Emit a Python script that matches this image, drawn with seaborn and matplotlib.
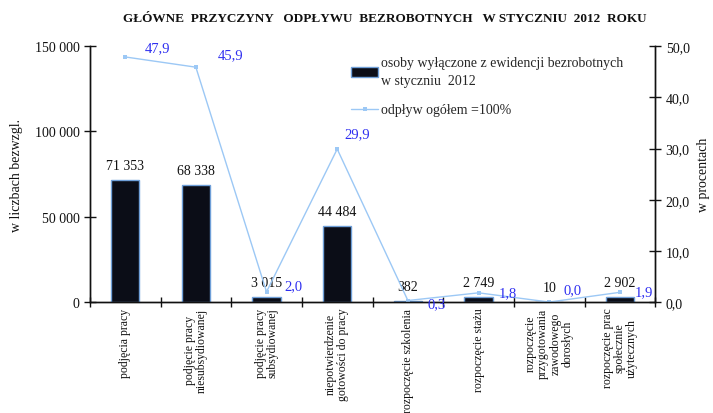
import numpy as np
import pandas as pd
import matplotlib
matplotlib.use("Agg")
import matplotlib.pyplot as plt
from matplotlib.ticker import FuncFormatter, FixedLocator
import seaborn as sns

# ---- data ----
categories = [
    "podjęcia pracy",
    "podjęcie pracy\nniesubsydiowanej",
    "podjęcie pracy\nsubsydiowanej",
    "niepotwierdzenie\ngotowości do pracy",
    "rozpoczęcie szkolenia",
    "rozpoczęcie stażu",
    "rozpoczęcie\nprzygotowania\nzawodowego\ndorosłych",
    "rozpoczęcie prac\nspołecznie\nużytecznych",
]
counts = [71353, 68338, 3015, 44484, 382, 2749, 10, 2902]
percents = [47.9, 45.9, 2.0, 29.9, 0.3, 1.8, 0.0, 1.9]
left_ticks = [0, 50000, 100000, 150000]
right_ticks = [0, 10, 20, 30, 40, 50]

title = "GŁÓWNE  PRZYCZYNY   ODPŁYWU  BEZROBOTNYCH   W STYCZNIU  2012  ROKU"
bar_legend = "osoby wyłączone z ewidencji bezrobotnych\nw styczniu  2012"
line_legend = "odpływ ogółem =100%"

sns.set_theme(style="white")
plt.rcParams["font.family"] = ["Liberation Serif", "DejaVu Serif"]

df = pd.DataFrame({"cat": categories, "count": counts, "pct": percents})
df["pos"] = np.arange(len(df))

fig = plt.figure(figsize=(7.13, 4.14), dpi=100)
ax = fig.add_axes([0.126, 0.268, 0.793, 0.618])

sns.barplot(data=df, x="cat", y="count", ax=ax, color="#0b0d17",
            edgecolor="#6f9fd8", linewidth=1.0, width=0.40, saturation=1,
            label=bar_legend)
ax.set_xlim(-0.5, len(df) - 0.5)
ax.set_ylim(0, 150000)

fmt_count = lambda v: f"{int(v):,}".replace(",", " ")
ax.bar_label(ax.containers[0], labels=[fmt_count(v) for v in counts],
             padding=6, fontsize=10, color="#111111")

ax2 = ax.twinx()
sns.lineplot(data=df, x="pos", y="pct", ax=ax2, color="#9cc8f5",
             marker="s", markersize=3.5, markeredgewidth=0, linewidth=1.0,
             label=line_legend)
ax2.set_ylim(0, 50)
ax2.set_xlim(-0.5, len(df) - 0.5)

offsets = [(32, 9), (35, 12), (27, 6), (20, 15), (29, -3), (29, 0), (23, 12), (24, 1)]
for (x, y), (dx, dy) in zip(zip(df["pos"], percents), offsets):
    ax2.annotate(f"{y:.1f}".replace(".", ","), (x, y), xytext=(dx, dy),
                 textcoords="offset pixels", ha="center", va="center",
                 fontsize=10.5, color="#2f2ff0")

# axes styling
for a in (ax, ax2):
    a.spines["top"].set_visible(False)
    for s in ("left", "right", "bottom"):
        a.spines[s].set_color("#111111")
        a.spines[s].set_linewidth(1.0)
    a.grid(False)

ax.yaxis.set_major_locator(FixedLocator(left_ticks))
ax.yaxis.set_major_formatter(FuncFormatter(lambda v, p: fmt_count(v)))
ax.tick_params(axis="y", direction="inout", length=8, width=1, labelsize=10,
               colors="#111111", left=True)
ax.set_ylabel("w liczbach bezwzgl.", fontsize=10, color="#111111", labelpad=8)

ax2.yaxis.set_major_locator(FixedLocator(right_ticks))
ax2.yaxis.set_major_formatter(FuncFormatter(lambda v, p: f"{v:.1f}".replace(".", ",")))
ax2.tick_params(axis="y", direction="inout", length=8, width=1, labelsize=10,
                colors="#111111", right=True)
ax2.set_ylabel("w procentach", fontsize=10, color="#111111", labelpad=5)

ax.set_xlabel("")
ax2.set_xlabel("")
ax2.set_xticks([])
ax.set_xticks(df["pos"])
ax.set_xticklabels(categories, rotation=90, fontsize=8.5, ha="center", va="top",
                   multialignment="center", color="#111111", linespacing=1.0)
ax.tick_params(axis="x", which="major", length=0, pad=4, bottom=True)
ax.xaxis.set_minor_locator(FixedLocator(np.arange(len(df) + 1) - 0.5))
ax.tick_params(axis="x", which="minor", direction="inout", length=7, width=1,
               colors="#111111", bottom=True)

# legend
h1, l1 = ax.get_legend_handles_labels()
h2, l2 = ax2.get_legend_handles_labels()
if ax2.get_legend() is not None:
    ax2.get_legend().remove()
if ax.get_legend() is not None:
    ax.get_legend().remove()
leg = ax2.legend(h1 + h2, l1 + l2, loc="upper left",
                 bbox_to_anchor=(0.485, 0.875), bbox_transform=fig.transFigure,
                 frameon=False, fontsize=10, handlelength=1.9, handletextpad=0.2,
                 labelspacing=1.2, borderaxespad=0)
for t in leg.get_texts():
    t.set_linespacing(1.45)

fig.text(0.54, 0.955, title, ha="center", va="center", fontsize=9.5,
         fontweight="bold", color="#111111")

fig.savefig("out.png", dpi=100, facecolor="white")
